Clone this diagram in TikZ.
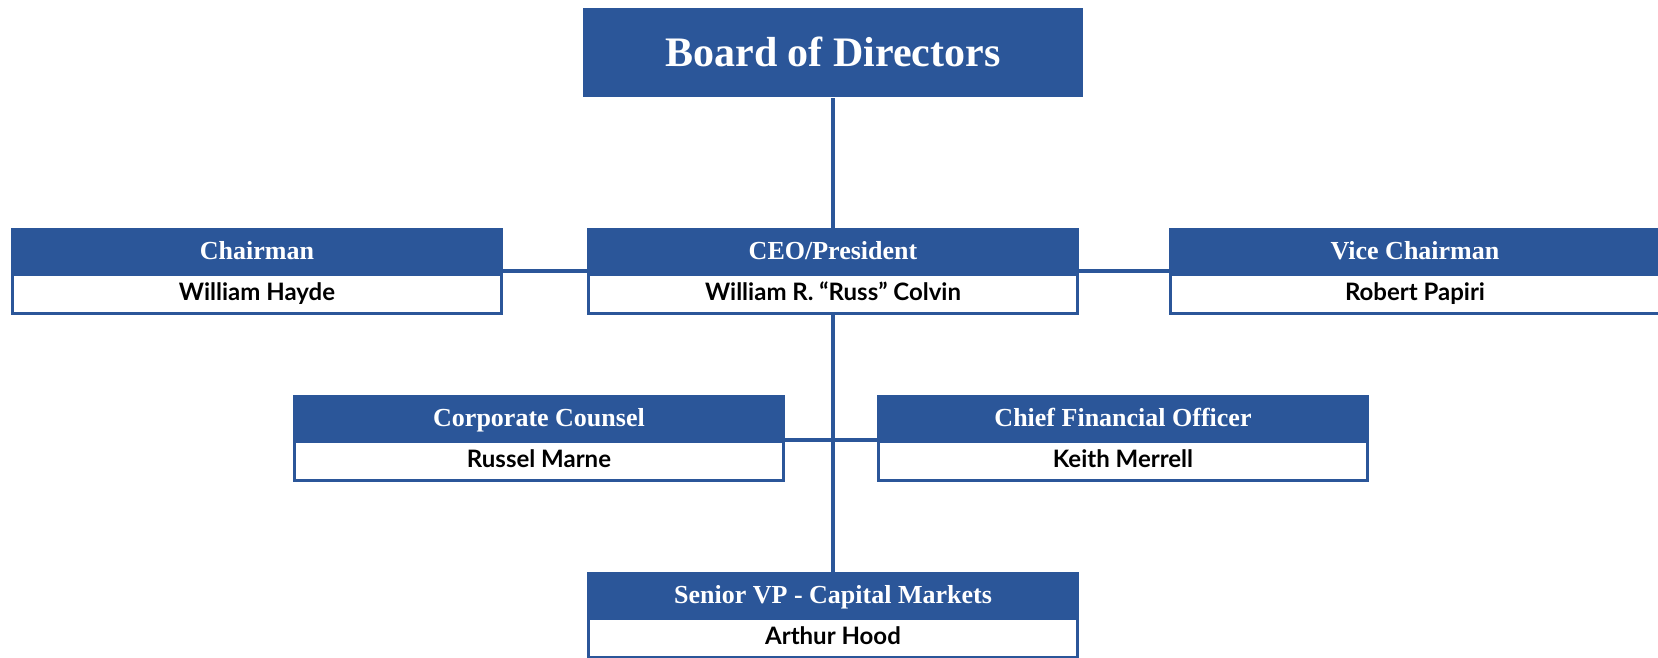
\documentclass[tikz,border=0pt]{standalone}
\usepackage{fontspec}
\setmainfont{Liberation Serif}
\newfontfamily\namefont{Lato}
\usetikzlibrary{positioning}
\definecolor{boardblue}{HTML}{2B5699}

\begin{document}
\begin{tikzpicture}[x=1pt,y=-1pt,line width=3pt,node distance=0pt]
				\tikzstyle{board}=[fill=boardblue,text=white,minimum width=500pt,minimum height=89pt,inner sep=0pt,font=\bfseries\fontsize{42}{48}\selectfont]
			    \tikzstyle{title}=[fill=boardblue,draw=boardblue,text=white,minimum width=489pt,minimum height=42pt,inner sep=0pt,text height=19pt,text depth=0pt,font=\bfseries\fontsize{26}{30}\selectfont]
			    \tikzstyle{person}=[fill=white,draw=boardblue,minimum width=489pt,minimum height=39pt,inner sep=0pt,text height=16pt,text depth=2pt,font=\namefont\bfseries\fontsize{24}{28}\selectfont]
			    \tikzstyle{link}=[draw=boardblue,line width=4pt]

			    \useasboundingbox (0,0) rectangle (1658,657);

			    % Board
			    \node[board] (bod) at (833,52) {Board of Directors};

			    % Officers on the second row
			    \node[title] (chairH) at (257,250) {Chairman};
			    \node[person,below=of chairH] (chair) {William Hayde};
			    \node[title] (ceoH) at (833,250) {CEO/President};
			    \node[person,below=of ceoH] (ceo) {William R. “Russ” Colvin};
			    \node[title] (viceH) at (1415,250) {Vice Chairman};
			    \node[person,below=of viceH] (vice) {Robert Papiri};

			    % Counsel and finance
			    \node[title] (ccH) at (539,417) {Corporate Counsel};
			    \node[person,below=of ccH] (cc) {Russel Marne};
			    \node[title] (cfoH) at (1123,417) {Chief Financial Officer};
			    \node[person,below=of cfoH] (cfo) {Keith Merrell};

			    % Capital markets
			    \node[title] (svpH) at (833,594) {Senior VP - Capital Markets};
			    \node[person,below=of svpH] (svp) {Arthur Hood};

			    % Reporting lines
			    \path[link] (bod) edge (ceoH);
			    \path[link] (ceo) edge (svpH);
			    \path[link] ([yshift=2pt]chairH.south east) edge ([yshift=2pt]ceoH.south west);
			    \path[link] ([yshift=2pt]ceoH.south east) edge ([yshift=2pt]viceH.south west);
			    \path[link] (ccH.south east) edge (cfoH.south west);

\end{tikzpicture}
\end{document}
